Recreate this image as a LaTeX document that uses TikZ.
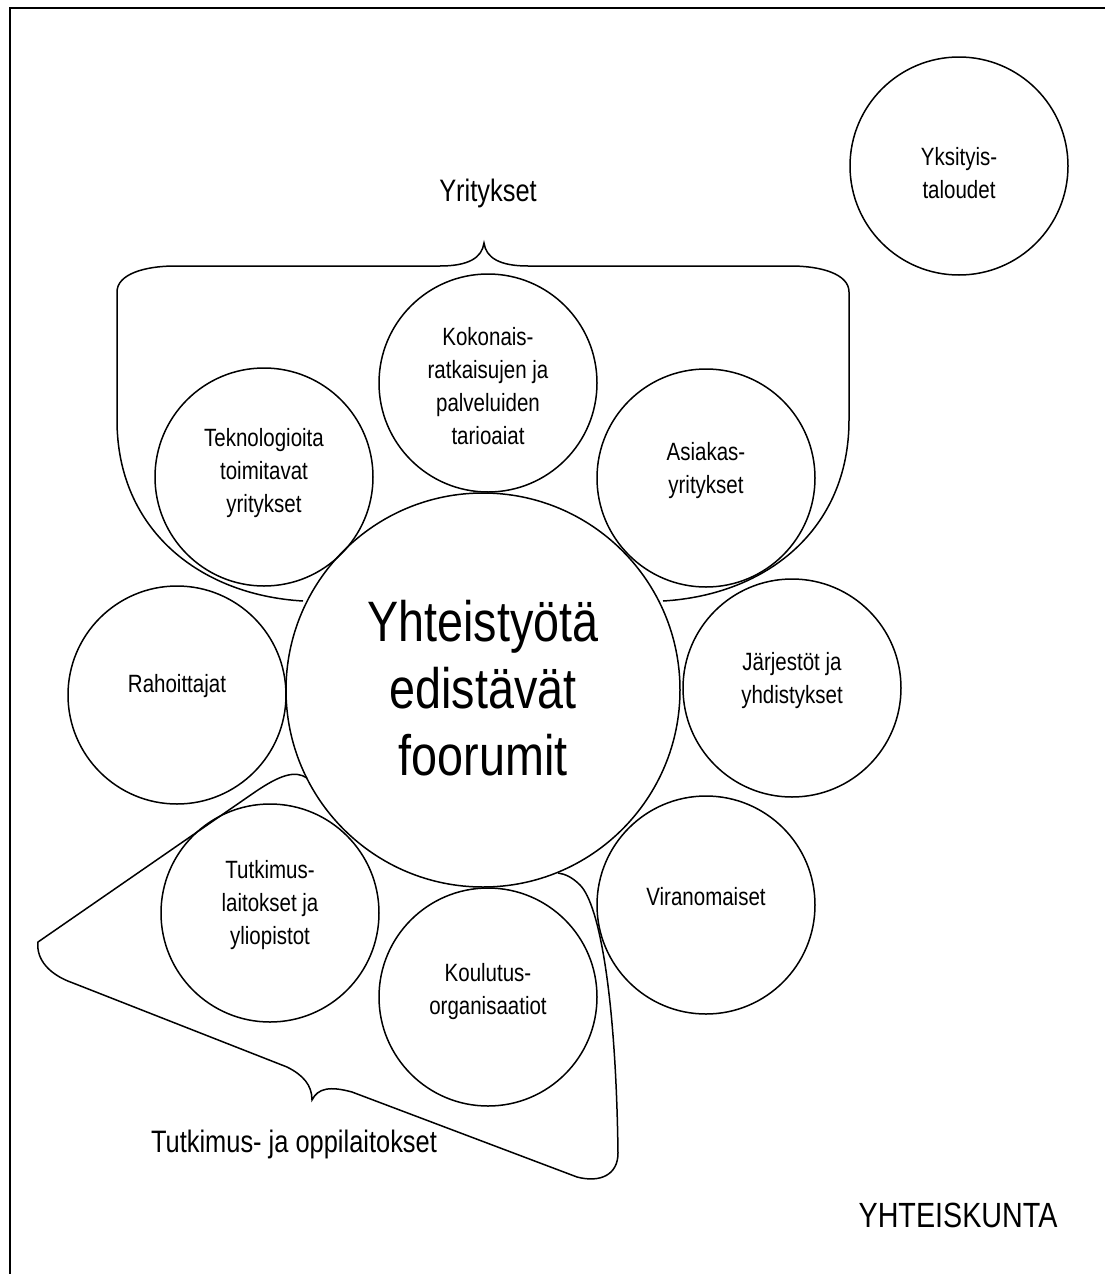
\documentclass[tikz,border=0pt]{standalone}
\usepackage{fontspec}
\setmainfont{Liberation Sans}[FakeStretch=0.82]
\begin{document}
\begin{tikzpicture}[x=1pt,y=-1pt,
  circ/.style={circle, draw, line width=1.5pt, minimum size=218pt, inner sep=0pt},
  bigcirc/.style={circle, draw, line width=1.5pt, minimum size=394pt, inner sep=0pt},
  lbl/.style={align=center, font=\fontsize{25}{33}\selectfont},
  biglbl/.style={align=center, font=\fontsize{57}{67}\selectfont},
  grp/.style={font=\fontsize{31}{37}\selectfont},
  brace/.style={draw, line width=1.5pt}]
\useasboundingbox (0,0) rectangle (1104,1274);
% frame
\draw[line width=2pt] (10,1280) -- (10,8) -- (1110,8);
% circles
\node[circ] (yks) at (959,166) {};
\node[circ] (kok) at (488,383) {};
\node[circ] (tek) at (264,477) {};
\node[circ] (asi) at (706,478) {};
\node[bigcirc] (cen) at (483,690) {};
\node[circ] (rah) at (177,695) {};
\node[circ] (jar) at (792,688) {};
\node[circ] (vir) at (706,905) {};
\node[circ] (tut) at (270,913) {};
\node[circ] (kou) at (488,997) {};
% labels
\node[lbl] (tyks) at ([yshift=-7pt]yks.center) {Yksityis-\\taloudet};
\node[lbl] (tkok) at ([yshift=-3pt]kok.center) {Kokonais-\\ratkaisujen ja\\palveluiden\\tarioaiat};
\node[lbl] (ttek) at ([yshift=4pt]tek.center) {Teknologioita\\toimitavat\\yritykset};
\node[lbl] (tasi) at ([yshift=7pt]asi.center) {Asiakas-\\yritykset};
\node[lbl] (trah) at ([yshift=9pt]rah.center) {Rahoittajat};
\node[lbl] (tjar) at ([yshift=7pt]jar.center) {Järjestöt ja\\yhdistykset};
\node[lbl] (tvir) at ([yshift=8pt]vir.center) {Viranomaiset};
\node[lbl] (ttut) at ([yshift=8pt]tut.center) {Tutkimus-\\laitokset ja\\yliopistot};
\node[lbl] (tkou) at ([yshift=5pt]kou.center) {Koulutus-\\organisaatiot};
\node[biglbl] (tcen) at ([yshift=2pt]cen.center) {Yhteistyötä\\edistävät\\foorumit};
% group labels
\node[grp] (gyr) at (488,193) {Yritykset};
\node[grp] (gtu) at (294,1144) {Tutkimus- ja oppilaitokset};
\node[font=\fontsize{35}{40}\selectfont] (gyh) at (958,1215) {YHTEISKUNTA};
% top brace
\draw[brace] (303,601) .. controls (200,595) and (117,530) .. (117,420)
  -- (117,292) .. controls (117,274) and (145,266) .. (175,266)
  -- (440,266) .. controls (468,266) and (482,258) .. (484,243)
  .. controls (486,258) and (500,266) .. (528,266)
  -- (791,266) .. controls (821,266) and (849,274) .. (849,292)
  -- (849,420) .. controls (849,530) and (766,595) .. (663,601);
% bottom brace
\draw[brace] (307,778) .. controls (295,770) and (280,775) .. (255,792)
  -- (38,942) .. controls (36,960) and (50,975) .. (73,983)
  -- (287,1067) .. controls (303,1075) and (312,1085) .. (312,1100)
  .. controls (318,1088) and (330,1086) .. (352,1092)
  -- (577,1177) .. controls (600,1183) and (618,1175) .. (618,1153)
  .. controls (616,1000) and (600,905) .. (580,885)
  .. controls (572,877) and (565,874) .. (558,873);
\end{tikzpicture}
\end{document}
